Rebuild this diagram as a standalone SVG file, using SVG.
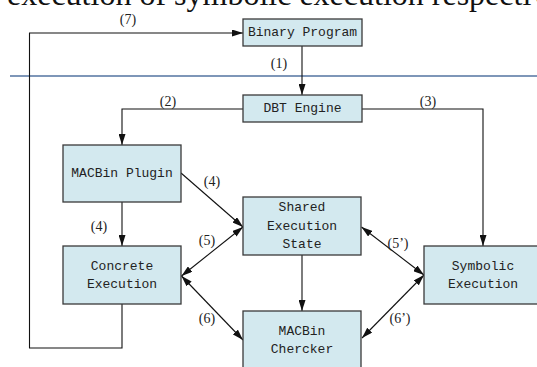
<svg xmlns="http://www.w3.org/2000/svg" width="537" height="367" viewBox="0 0 537 367">
<style>
.box{fill:#d3e9ef;stroke:#3a3a3a;stroke-width:1.3}
.bt{font-family:"Liberation Mono",monospace;font-size:13px;fill:#222;text-anchor:middle;dominant-baseline:central}
.lbl{font-family:"Liberation Serif",serif;font-size:14px;fill:#222;text-anchor:middle;dominant-baseline:central}
.c{fill:none;stroke:#111;stroke-width:1.1}
.a{marker-end:url(#ah)}
.d{marker-start:url(#ah);marker-end:url(#ah)}
</style>
<defs>
<marker id="ah" markerUnits="userSpaceOnUse" markerWidth="11" markerHeight="7" refX="11" refY="3.5" orient="auto-start-reverse">
<path d="M0,0 L11,3.5 L0,7 z" fill="#111"/>
</marker>
</defs>
<rect width="537" height="367" fill="#fff"/>
<text x="7" y="5" font-family="Liberation Serif,serif" font-size="32" fill="#111">execution of symbolic execution respectively</text>
<line x1="10" y1="76" x2="537" y2="76" stroke="#5373a0" stroke-width="1.3"/>
<g id="connectors">
<polyline class="c a" points="122,304 122,348 29.5,348 29.5,33 243,33"/>
<line class="c a" x1="302" y1="46" x2="302" y2="95"/>
<polyline class="c a" points="243,109 122,109 122,145"/>
<polyline class="c a" points="362,109 483,109 483,246"/>
<line class="c a" x1="122" y1="202" x2="122" y2="246"/>
<line class="c a" x1="181" y1="173" x2="243" y2="227"/>
<line class="c d" x1="181.5" y1="276" x2="243" y2="227"/>
<line class="c d" x1="181.5" y1="276" x2="243" y2="340"/>
<line class="c a" x1="302" y1="255" x2="302" y2="311"/>
<line class="c d" x1="361.5" y1="227" x2="424" y2="275"/>
<line class="c d" x1="424" y1="275" x2="362" y2="338"/>
<text class="lbl" x="128" y="19">(7)</text>
<text class="lbl" x="279" y="63">(1)</text>
<text class="lbl" x="168" y="101">(2)</text>
<text class="lbl" x="428" y="101">(3)</text>
<text class="lbl" x="212" y="181">(4)</text>
<text class="lbl" x="99" y="226">(4)</text>
<text class="lbl" x="207" y="240">(5)</text>
<text class="lbl" x="207" y="318">(6)</text>
<text class="lbl" x="398" y="243">(5’)</text>
<text class="lbl" x="400" y="318">(6’)</text>
</g>
<g id="binary-program">
<rect class="box" x="243" y="19" width="119" height="27"/>
<text class="bt" x="302.5" y="32.5">Binary Program</text>
</g>
<g id="dbt-engine">
<rect class="box" x="243" y="95" width="119" height="27"/>
<text class="bt" x="302.5" y="108.5">DBT Engine</text>
</g>
<g id="macbin-plugin">
<rect class="box" x="63" y="145" width="118" height="57"/>
<text class="bt" x="122" y="173">MACBin Plugin</text>
</g>
<g id="concrete-execution">
<rect class="box" x="63" y="246" width="118" height="58"/>
<text class="bt" x="122" y="266">Concrete</text>
<text class="bt" x="122" y="284">Execution</text>
</g>
<g id="shared-execution-state">
<rect class="box" x="243" y="197" width="118" height="58"/>
<text class="bt" x="302" y="207.5">Shared</text>
<text class="bt" x="302" y="226">Execution</text>
<text class="bt" x="302" y="244.5">State</text>
</g>
<g id="symbolic-execution">
<rect class="box" x="424" y="246" width="118" height="58"/>
<text class="bt" x="483" y="266">Symbolic</text>
<text class="bt" x="483" y="284">Execution</text>
</g>
<g id="macbin-chercker">
<rect class="box" x="243" y="311" width="118" height="58"/>
<text class="bt" x="302" y="331.5">MACBin</text>
<text class="bt" x="302" y="349">Chercker</text>
</g>
</svg>
